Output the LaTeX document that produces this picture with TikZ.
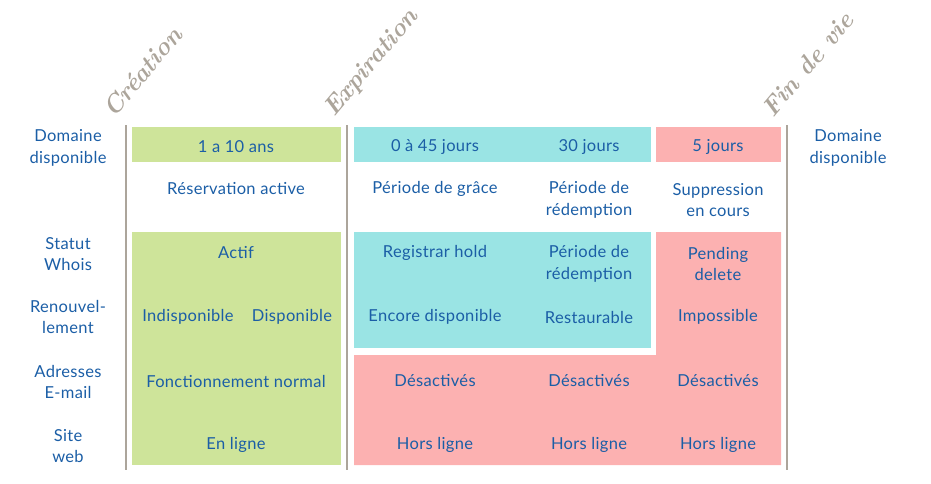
\documentclass[tikz,border=0pt]{standalone}
\usepackage{fontspec}
\newfontfamily\cellfont[LetterSpace=2]{Lato}
\usepackage{tikz}
\usetikzlibrary{%
	positioning,% wg. " of "
	calc
}
\definecolor{inkblue}{HTML}{1B5EA6}
\definecolor{activegreen}{HTML}{CEE49A}
\definecolor{gracecyan}{HTML}{9AE4E4}
\definecolor{deletepink}{HTML}{FCB1B1}
\definecolor{stonegray}{HTML}{ACA59B}
\tikzstyle{cell} = [font=\cellfont\fontsize{16.5}{21.5}\selectfont, text=inkblue, align=center, inner sep=0pt]
\tikzstyle{rowlabel} = [cell]
\tikzstyle{milestone} = [font=\bfseries\itshape\fontsize{25}{25}\selectfont, text=stonegray, rotate=50, anchor=base west, inner sep=0pt]
\tikzstyle{border} = [draw=stonegray, line width=2.6pt]

\begin{document}
\begin{tikzpicture}[x=1pt,y=-1pt]
	\useasboundingbox (0,0) rectangle (931,483);
	
	% First we draw the coloured blocks
	\fill[activegreen] (132,127) rectangle (341,162);
	\fill[gracecyan] (354,127) rectangle (651,162);
	\fill[deletepink] (656,127) rectangle (781,162);
	\fill[activegreen] (132,232) rectangle (341,465);
	\fill[gracecyan] (354,232) rectangle (651,348);
	\fill[deletepink] (656,232) -- (781,232) -- (781,465) -- (354,465) -- (354,355) -- (656,355) -- cycle;
	
	% Then the milestone lines
	\foreach \x/\name in {126/creation, 347/expiration, 787/findevie}
	\draw[border] (\x,125) coordinate (\name) -- (\x,470);
	
	% Milestone titles
	\node[milestone] (tcreation) at ($(creation)+(-12,-6)$) {Création};
	\node[milestone] (texpiration) at ($(expiration)+(-13,-7)$) {Expiration};
	\node[milestone] (tfindevie) at ($(findevie)+(-14,-6)$) {Fin de vie};
	
	% Row labels
	\foreach \pos/\name/\text in {
		{(68,148)/lbldomaine/Domaine\\disponible},
		{(68,254)/lblwhois/Statut\\Whois},
		{(68,317)/lblrenew/Renouvel-\\lement},
		{(68,382)/lblmail/Adresses\\E-mail},
		{(68,446)/lblsite/Site\\web},
		{(848,148)/lblfree/Domaine\\disponible}}
	\node[rowlabel] (\name) at \pos {\text};
	
	% Durations and phases
	\foreach \pos/\name/\text in {
		{(236,147)/duractive/1 a 10 ans},
		{(435,147)/durgrace/0 à 45 jours},
		{(589,147)/durredemp/30 jours},
		{(718,147)/durdelete/5 jours},
		{(236,189)/phactive/Réservation active},
		{(435,189)/phgrace/Période de grâce},
		{(589,200)/phredemp/Période de\\rédemption},
		{(718,200)/phdelete/Suppression\\en cours}}
	\node[cell] (\name) at \pos {\text};
	
	% Whois and renewal
	\foreach \pos/\name/\text in {
		{(236,253)/whactive/Actif},
		{(435,253)/whgrace/Registrar hold},
		{(589,264)/whredemp/Période de\\rédemption},
		{(718,264)/whdelete/Pending\\delete},
		{(188,317)/rnlocked/Indisponible},
		{(292,317)/rnopen/Disponible},
		{(435,317)/rngrace/Encore disponible},
		{(589,317)/rnredemp/Restaurable},
		{(718,317)/rndelete/Impossible}}
	\node[cell] (\name) at \pos {\text};
	
	% Mail and website
	\foreach \pos/\name/\text in {
		{(236,381)/mlactive/Fonctionnement normal},
		{(435,381)/mlgrace/Désactivés},
		{(589,381)/mlredemp/Désactivés},
		{(718,381)/mldelete/Désactivés},
		{(236,445)/stactive/En ligne},
		{(435,445)/stgrace/Hors ligne},
		{(589,445)/stredemp/Hors ligne},
		{(718,445)/stdelete/Hors ligne}}
	\node[cell] (\name) at \pos {\text};
	
\end{tikzpicture}
\end{document}
